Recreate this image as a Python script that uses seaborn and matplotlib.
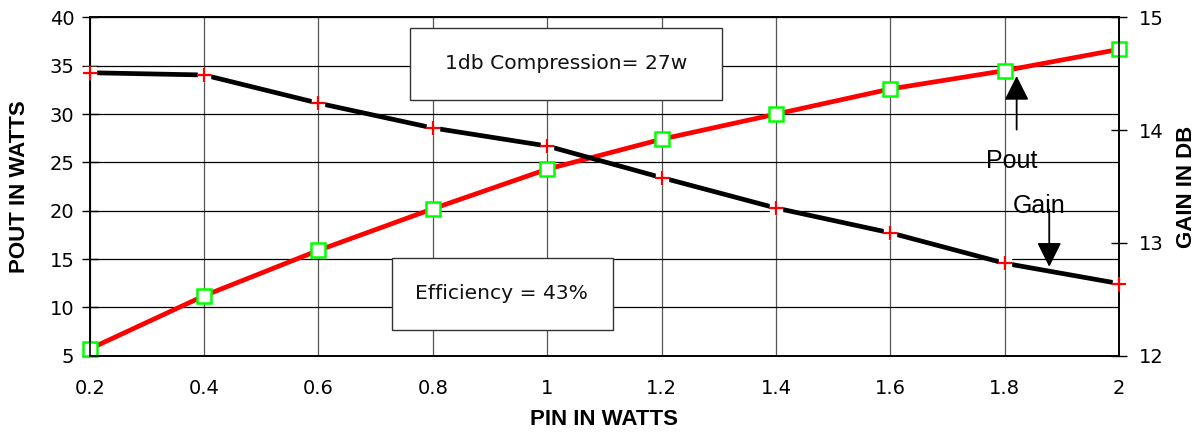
import pandas as pd
import seaborn as sns
import matplotlib.pyplot as plt
from matplotlib.patches import Rectangle

# values
pin_watts = [0.2, 0.4, 0.6, 0.8, 1.0, 1.2, 1.4, 1.6, 1.8, 2.0]
pout_watts = [5.7, 11.2, 15.9, 20.2, 24.3, 27.4, 30.0, 32.6, 34.5, 36.7]
gain_db = [14.51, 14.49, 14.24, 14.02, 13.86, 13.58, 13.31, 13.09, 12.82, 12.64]

x_ticks = [0.2, 0.4, 0.6, 0.8, 1.0, 1.2, 1.4, 1.6, 1.8, 2.0]
x_tick_labels = ['0.2', '0.4', '0.6', '0.8', '1', '1.2', '1.4', '1.6', '1.8', '2']
left_ticks = [5, 10, 15, 20, 25, 30, 35, 40]
right_ticks = [12, 13, 14, 15]

df = pd.DataFrame({'pin': pin_watts, 'pout': pout_watts, 'gain': gain_db})

sns.set_style('white')
plt.rcParams['font.family'] = ['DejaVu Sans']
plt.rcParams['text.color'] = 'black'

fig = plt.figure(figsize=(12.04, 4.36), dpi=100)
ax = fig.add_axes([0.0745, 0.1842, 0.8549, 0.7757])
ax2 = ax.twinx()

# Pout line, red with hollow green squares
sns.lineplot(data=df, x='pin', y='pout', ax=ax, color='#ff0000', linewidth=3.4,
             marker='s', markersize=10, markerfacecolor='white',
             markeredgecolor='#00ff00', markeredgewidth=1.8, zorder=4, clip_on=False)

# Gain line, black with red plus signs
sns.lineplot(data=df, x='pin', y='gain', ax=ax2, color='black', linewidth=3.4, zorder=3)
ax2.plot(df['pin'], df['gain'], linestyle='none', marker='s', markersize=9,
         markerfacecolor='white', markeredgecolor='white', zorder=4, clip_on=False)
ax2.plot(df['pin'], df['gain'], linestyle='none', marker='+', markersize=10.5,
         markeredgecolor='#ff0000', markeredgewidth=1.6, zorder=5, clip_on=False)

ax.set_xlim(0.2, 2.0)
ax.set_ylim(5, 40)
ax2.set_ylim(12, 15)
ax.set_xticks(x_ticks)
ax.set_xticklabels(x_tick_labels)
ax.set_yticks(left_ticks)
ax2.set_yticks(right_ticks)

ax.set_axisbelow(True)
ax.yaxis.grid(True, color='black', linewidth=0.9)
ax.xaxis.grid(True, color='#555555', linewidth=0.9)

for a in (ax, ax2):
    for sp in a.spines.values():
        sp.set_color('black')
        sp.set_linewidth(1.2)
ax.tick_params(axis='both', direction='inout', length=12, width=1, colors='black', labelsize=14)
ax.tick_params(axis='x', pad=11)
ax.tick_params(axis='y', pad=5)
ax2.tick_params(axis='y', direction='inout', length=12, width=1, colors='black', labelsize=14, pad=8)

label_font = dict(family='Liberation Sans', weight='bold', size=16, color='black')
ax.set_xlabel('PIN IN WATTS', va='center', **label_font)
ax.set_ylabel('POUT IN WATTS', va='center', **label_font)
ax2.set_ylabel('GAIN IN DB', va='center', rotation=90, **label_font)
ax.xaxis.set_label_coords(0.5, -0.19)
ax.yaxis.set_label_coords(-0.068, 0.5)
ax2.yaxis.set_label_coords(1.066, 0.5)

# text boxes
ax.add_patch(Rectangle((0.761, 31.47), 0.544, 7.45, facecolor='white',
                       edgecolor='#333333', linewidth=1, zorder=3))
ax.text(1.033, 35.2, '1db Compression= 27w', ha='center', va='center',
        fontsize=14.6, color='#111111', zorder=4)
ax.add_patch(Rectangle((0.728, 7.65), 0.387, 7.46, facecolor='white',
                       edgecolor='#333333', linewidth=1, zorder=3))
ax.text(0.92, 11.4, 'Efficiency = 43%', ha='center', va='center',
        fontsize=14.6, color='#111111', zorder=4)

# arrow callouts
arrow = dict(arrowstyle='-|>,head_length=0.6,head_width=0.3', mutation_scale=25,
             color='black', lw=1.3, shrinkA=0, shrinkB=0)
ax.annotate('', xy=(1.821, 33.95), xytext=(1.821, 28.4), arrowprops=arrow, zorder=6)
ax.annotate('', xy=(1.878, 14.2), xytext=(1.878, 20.1), arrowprops=arrow, zorder=6)
ax.text(1.812, 24.46, 'Pout', ha='center', va='baseline', fontsize=18,
        family='Liberation Sans', color='black', zorder=6)
ax.text(1.861, 19.74, 'Gain', ha='center', va='baseline', fontsize=18,
        family='Liberation Sans', color='black', zorder=6)

ax2.set_zorder(ax.get_zorder() + 1)
ax.patch.set_visible(True)
ax2.patch.set_visible(False)

fig.savefig('out.png', dpi=100)
